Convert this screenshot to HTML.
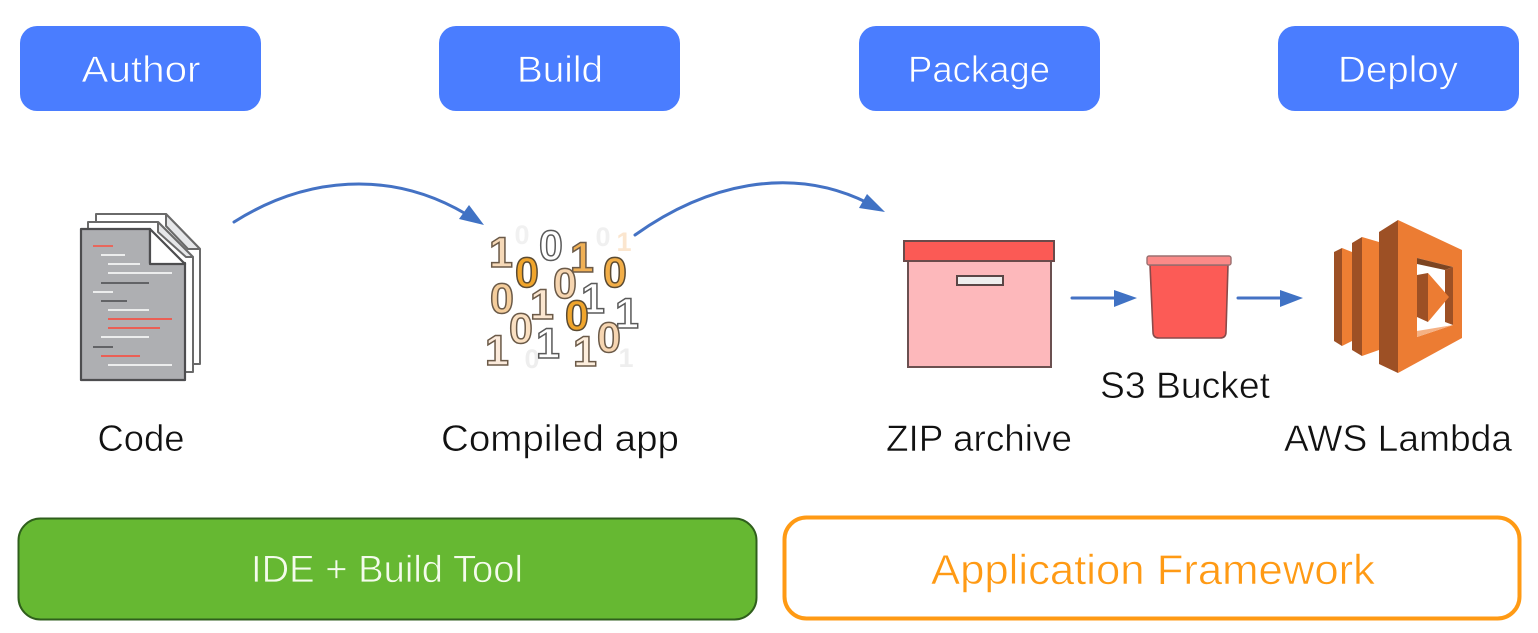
<!DOCTYPE html>
<html><head><meta charset="utf-8"><style>
html,body{margin:0;padding:0;background:#fff;width:1538px;height:633px;overflow:hidden}
svg{display:block;filter:blur(0.35px)}
text{font-family:"Liberation Sans",sans-serif}
.h{font-size:37px;fill:#fff;text-anchor:middle;stroke:#4a7dff;stroke-width:.7}
.l{font-size:37px;fill:#111;text-anchor:middle;stroke:#fff;stroke-width:.55}
.d{font-size:43px;font-weight:bold;text-anchor:middle;stroke-width:1.5}
.f{font-size:27px;font-weight:bold;text-anchor:middle;stroke:none}
</style></head><body>
<svg width="1538" height="633" viewBox="0 0 1538 633" xmlns="http://www.w3.org/2000/svg">
<rect width="1538" height="633" fill="#fff"/>
<g fill="#4a7dff">
<rect x="20" y="26" width="241" height="85" rx="17"/>
<rect x="439" y="26" width="241" height="85" rx="17"/>
<rect x="859" y="26" width="241" height="85" rx="17"/>
<rect x="1278" y="26" width="241" height="85" rx="17"/>
</g>
<text class="h" x="141" y="82" textLength="119" lengthAdjust="spacingAndGlyphs">Author</text>
<text class="h" x="560" y="82" textLength="86" lengthAdjust="spacingAndGlyphs">Build</text>
<text class="h" x="979" y="82" textLength="142" lengthAdjust="spacingAndGlyphs">Package</text>
<text class="h" x="1398" y="82" textLength="120" lengthAdjust="spacingAndGlyphs">Deploy</text>

<!-- Code -->
<g stroke="#6a6a6a" stroke-width="2" stroke-linejoin="round">
<path d="M96 214H166L200 249V364H96Z" fill="#fff"/>
<path d="M166 214L200 249H188L166 226Z" fill="#e6e7e9"/>
<path d="M88 222H158L193 257V372H88Z" fill="#fff"/>
<path d="M158 222L193 257H186L158 232Z" fill="#e6e7e9"/>
</g>
<path d="M81 229H150V263H185V380H81Z" fill="#aeafb2" stroke="#4d4d4f" stroke-width="2.2" stroke-linejoin="round"/>
<path d="M150 229L185 264H150Z" fill="#fff" stroke="#4d4d4f" stroke-width="2.2" stroke-linejoin="round"/>
<g stroke-width="2">
<path d="M93 246H113" stroke="#e8675c"/>
<path d="M101 255H125M108 264H140M108 273H172M93 292H113M108 310H149M101 337H149M108 365H172" stroke="#eceded"/>
<path d="M101 283H149M101 301H127M93 347H113" stroke="#626366"/>
<path d="M108 319H172M108 328H160M101 356H140" stroke="#ea5f55"/>
</g>

<!-- binary -->
<g>
<text class="f" x="522" y="244" fill="#f1f1f1">0</text>
<text class="f" x="603" y="246" fill="#f0f0f0">0</text>
<text class="f" x="624" y="251" fill="#fbe6cf">1</text>
<text class="f" x="532" y="368" fill="#eeeeee">0</text>
<text class="f" x="626" y="367" fill="#eeeeee">1</text>
<text class="d" x="501" y="267" fill="#f6d9b8" stroke="#6b5a48">1</text>
<text class="d" x="551" y="260" fill="#fff" stroke="#5a5a5a">0</text>
<text class="d" x="582" y="272" fill="#f0b055" stroke="#6b5a48">1</text>
<text class="d" x="527" y="287" fill="#f0a52c" stroke="#5a4a32">0</text>
<text class="d" x="615" y="287" fill="#f2ae48" stroke="#5a4a32">0</text>
<text class="d" x="565" y="298" fill="#f6d5b0" stroke="#6b5a48">0</text>
<text class="d" x="502" y="313" fill="#f4cd9c" stroke="#6b5a48">0</text>
<text class="d" x="542" y="319" fill="#fbe6d0" stroke="#6b5a48">1</text>
<text class="d" x="593" y="313" fill="#fff" stroke="#5a5a5a">1</text>
<text class="d" x="577" y="330" fill="#f0a52c" stroke="#5a4a32">0</text>
<text class="d" x="627" y="328" fill="#fff" stroke="#5a5a5a">1</text>
<text class="d" x="521" y="343" fill="#fae0c2" stroke="#6b5a48">0</text>
<text class="d" x="548" y="358" fill="#fff" stroke="#5a5a5a">1</text>
<text class="d" x="585" y="366" fill="#fdeedd" stroke="#6b5a48">1</text>
<text class="d" x="609" y="352" fill="#f7d6b2" stroke="#6b5a48">0</text>
<text class="d" x="497" y="365" fill="#fbeadb" stroke="#6b5a48">1</text>
</g>

<!-- arrows -->
<g fill="none" stroke="#4472c4" stroke-width="3" stroke-linecap="round">
<path d="M234 222C305 177 390 169 466 214"/>
<path d="M635 235C705 185 790 164 868 203"/>
<path d="M1072 298H1116"/>
<path d="M1238 298H1282"/>
</g>
<g fill="#4072c4">
<path d="M484 225L459 219L469 205Z"/>
<path d="M885 212L859 208L867 194Z"/>
<path d="M1137 298L1114 290V307Z"/>
<path d="M1303 298L1280 290V307Z"/>
</g>

<!-- box -->
<rect x="908" y="261" width="143" height="106" fill="#fdb8bb" stroke="#6b5050" stroke-width="2"/>
<rect x="904" y="241" width="150" height="20" fill="#fb5a55" stroke="#6b4a4a" stroke-width="2"/>
<rect x="957" y="276" width="46" height="9" fill="#eeeeee" stroke="#5a4646" stroke-width="2"/>

<!-- bucket -->
<path d="M1150 265H1228L1226 332Q1226 338 1220 338H1159Q1153 338 1153 332Z" fill="#fc5b56" stroke="#8a4a4a" stroke-width="1.6"/>
<rect x="1147" y="256" width="84" height="9" rx="2" fill="#fb8a88" stroke="#9a7070" stroke-width="1.4"/>

<!-- lambda -->
<path d="M1334 252L1342 248V346L1334 341Z" fill="#9d5025"/>
<path d="M1342 248L1352 252V341L1342 346Z" fill="#ee7e33"/>
<path d="M1352 243L1362 237V356L1352 350Z" fill="#9d5025"/>
<path d="M1362 237L1379 242V350L1362 356Z" fill="#ee7e33"/>
<path d="M1379 232L1398 220V373L1379 364Z" fill="#9d5025"/>
<path d="M1398 220L1462 250V338L1398 373Z" fill="#ec7c33"/>
<path d="M1417 258L1453 267V325L1417 337Z" fill="#fff"/>
<path d="M1417 258L1453 267L1445 270L1417 264Z" fill="#7d4522"/>
<path d="M1445 270L1453 267V325L1445 322Z" fill="#9d5025"/>
<path d="M1417 337L1453 325L1417 331Z" fill="#f5b184"/>
<path d="M1417 275L1428 273V322L1417 317Z" fill="#9d5025"/>
<path d="M1428 273L1449 297L1428 322Z" fill="#ec7c33"/>

<text class="l" x="141" y="451" textLength="87" lengthAdjust="spacingAndGlyphs">Code</text>
<text class="l" x="560" y="451" textLength="238" lengthAdjust="spacingAndGlyphs">Compiled app</text>
<text class="l" x="979" y="451" textLength="186" lengthAdjust="spacingAndGlyphs">ZIP archive</text>
<text class="l" x="1185" y="398" textLength="170" lengthAdjust="spacingAndGlyphs">S3 Bucket</text>
<text class="l" x="1398" y="451" textLength="228" lengthAdjust="spacingAndGlyphs">AWS Lambda</text>

<rect x="18.5" y="518.5" width="738" height="101" rx="22" fill="#66b832" stroke="#2f5f1c" stroke-width="2"/>
<text x="387" y="582" text-anchor="middle" font-size="38" fill="#f4fbec" stroke="#66b832" stroke-width=".7" textLength="272" lengthAdjust="spacingAndGlyphs">IDE + Build Tool</text>
<rect x="784.5" y="517.5" width="735" height="101" rx="22" fill="#fff" stroke="#ff9a14" stroke-width="4"/>
<text x="1153" y="584" text-anchor="middle" font-size="42" fill="#ff9a14" stroke="#fff" stroke-width=".6" textLength="444" lengthAdjust="spacingAndGlyphs">Application Framework</text>
</svg>
</body></html>
